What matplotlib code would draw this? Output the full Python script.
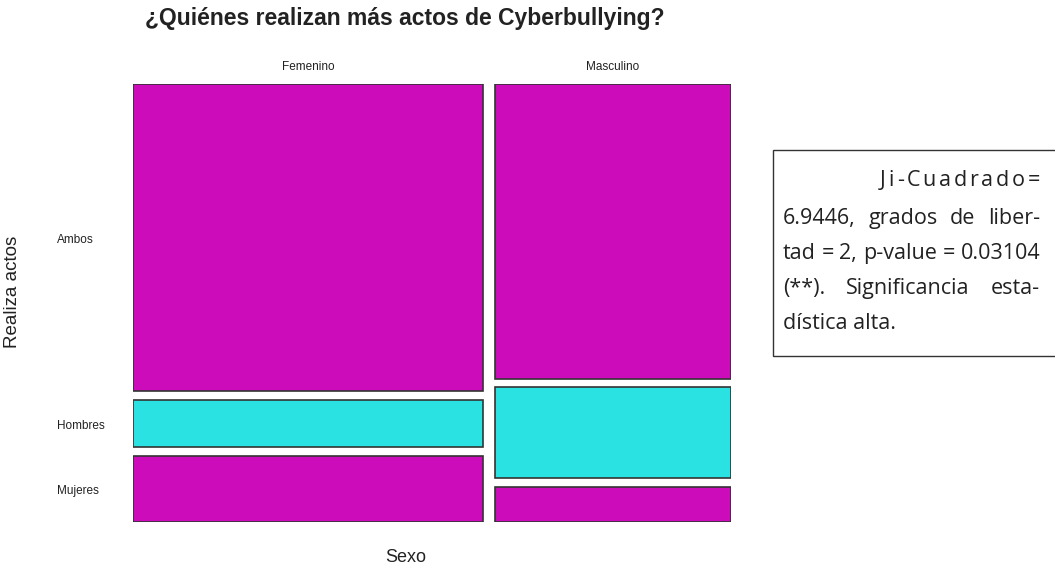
import matplotlib
matplotlib.use('Agg')
import matplotlib.pyplot as plt
from matplotlib.patches import Rectangle

W, H = 1055, 572

# conteos leidos del mosaico (estimados)
sexo = ['Femenino', 'Masculino']
actos = ['Ambos', 'Hombres', 'Mujeres']
femenino = [65, 10, 14]
masculino = [42, 13, 5]
colores = ['#CC0CBB', '#2AE2E2', '#CC0CBB']

nota = [
    ('chars', 'Ji-Cuadrado='),
    ('just', '6.9446, grados de liber-'),
    ('just', 'tad = 2, p-value = 0.03104'),
    ('just', '(**). Significancia esta-'),
    ('left', 'dística alta.'),
]

plt.rcParams['font.family'] = ['Liberation Sans', 'DejaVu Sans']

fig = plt.figure(figsize=(W / 100, H / 100), dpi=100)

def fx(px):
    return px / W

def fy(py):
    return 1 - py / H

ax = fig.add_axes([fx(133), fy(522), fx(731) - fx(133), fy(84) - fy(522)])
ax.set_xlim(0, 1)
ax.set_ylim(1, 0)
ax.axis('off')

gx = 12 / 598
gy = 8.5 / 438
tablas = [femenino, masculino]
total = sum(sum(t) for t in tablas)
x0 = 0
for i, (nombre, cuentas) in enumerate(zip(sexo, tablas)):
    w = (1 - gx) * sum(cuentas) / total
    y0 = 0
    for j, c in enumerate(cuentas):
        h = (1 - 2 * gy) * c / sum(cuentas)
        ax.add_patch(Rectangle((x0, y0), w, h, facecolor=colores[j],
                               edgecolor='#333333', lw=1.2))
        if i == 0:
            fig.text(fx(57), fy(86 + (y0 + h / 2) * 438), actos[j],
                     fontsize=8.5, ha='left', va='center', color='#222222')
        y0 += h + gy
    ax.annotate(nombre, xy=(x0 + w / 2, 0), xytext=(0, 8),
                textcoords='offset points', ha='center', va='bottom',
                fontsize=8.5, color='#222222')
    x0 += w + gx

fig.text(fx(145), fy(19), '¿Quiénes realizan más actos de Cyberbullying?',
         fontsize=16.5, fontweight='bold', ha='left', va='center', color='#222222')
fig.text(fx(13), fy(292), 'Realiza actos', rotation=90, fontsize=13.5,
         ha='center', va='center', color='#222222')
fig.text(fx(406), fy(558), 'Sexo', fontsize=13, ha='center', va='center',
         color='#222222')

# recuadro con la prueba
fig.patches.append(Rectangle((fx(773), fy(356)), fx(1060) - fx(773),
                             fy(150) - fy(356), transform=fig.transFigure,
                             facecolor='white', edgecolor='#333333', lw=1.0))

renderer = fig.canvas.get_renderer()
left, right = 783, 1040
base = [186, 224, 259, 294, 329]
fk = dict(fontsize=15.5, family='Open Sans', color='#222222', va='baseline')

def ancho(t):
    return t.get_window_extent(renderer).width

for (modo, linea), yb in zip(nota, base):
    if modo == 'left':
        fig.text(fx(left), fy(yb), linea, ha='left', **fk)
        continue
    if modo == 'chars':
        piezas = list(linea)
        ini = 880
    else:
        piezas = linea.split(' ')
        ini = left
    objs = [fig.text(0, fy(yb), p, ha='left', **fk) for p in piezas]
    ws = [ancho(o) for o in objs]
    hueco = (right - ini - sum(ws)) / (len(objs) - 1)
    x = ini
    for o, w in zip(objs, ws):
        o.set_x(fx(x))
        x += w + hueco

fig.savefig('out.png', dpi=100)
